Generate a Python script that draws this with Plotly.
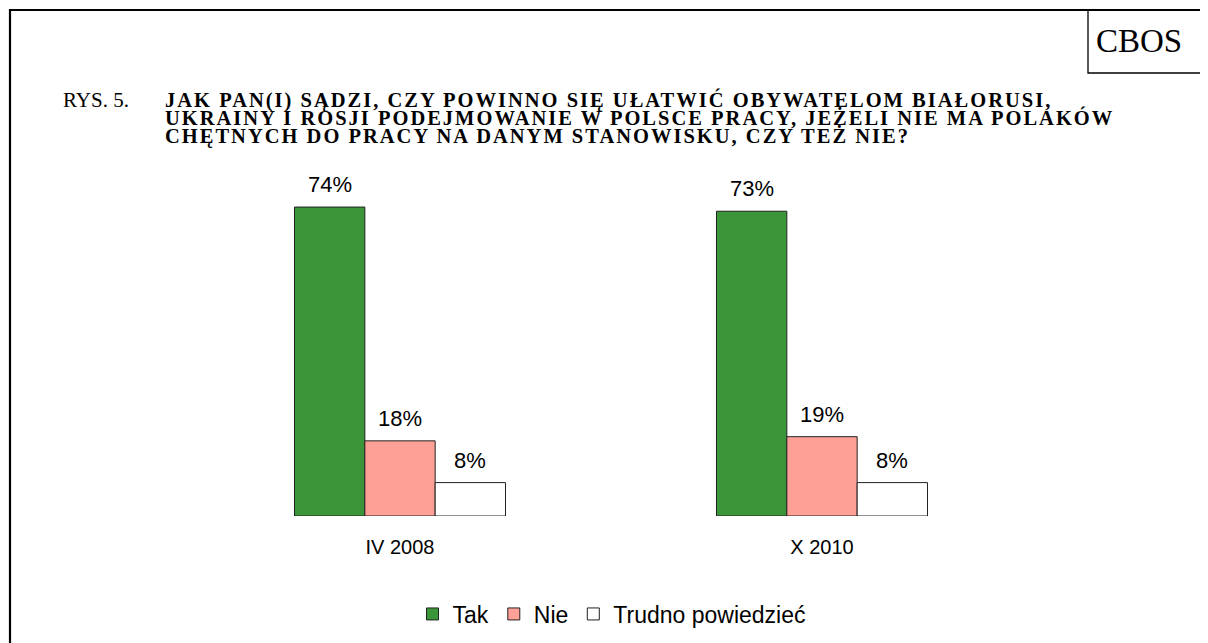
import plotly.graph_objects as go

# ---- data ----
categories = ["IV 2008", "X 2010"]
series_names = ["Tak", "Nie", "Trudno powiedzieć"]
tak = [74, 73]
nie = [18, 19]
trudno = [8, 8]
series_values = [tak, nie, trudno]
series_colors = ["#3A9638", "#FFA096", "#FFFFFF"]

title_prefix = "RYS. 5."
title_lines = [
    "JAK PAN(I) SĄDZI, CZY POWINNO SIĘ UŁATWIĆ OBYWATELOM BIAŁORUSI,",
    "UKRAINY I ROSJI PODEJMOWANIE W POLSCE PRACY, JEŻELI NIE MA POLAKÓW",
    "CHĘTNYCH DO PRACY NA DANYM STANOWISKU, CZY TEŻ NIE?",
]

# ---- layout geometry (screen pixels; page has an 8px body margin) ----
W, H = 1208, 643
OFF = 8
PL, PR, PT, PB = 189, 1033, 182, 516   # plot area on screen
L, R, T, B = PL - OFF, W - (PR - OFF), PT - OFF, H - (PB - OFF)


def px(x):
    return (x - PL) / (PR - PL)


def py(y):
    return (PB - y) / (PB - PT)


SANS = "Liberation Sans, Arial, sans-serif"
SERIF = "Liberation Serif, Times New Roman, serif"

fig = go.Figure()
for name, vals, col in zip(series_names, series_values, series_colors):
    fig.add_trace(go.Bar(
        name=name, x=categories, y=vals,
        marker=dict(color=col, line=dict(color="#222222", width=1)),
    ))

# value labels above bars
bar_px = 70
offsets = [-bar_px, 0, bar_px]
annotations = []
for vals, off in zip(series_values, offsets):
    for c, v in zip(categories, vals):
        annotations.append(dict(
            x=c, y=v, xref="x", yref="y", text=f"{v}%", showarrow=False,
            xshift=off, yshift=8, yanchor="bottom",
            font=dict(family=SANS, size=22, color="#000000"),
        ))

# title
annotations.append(dict(
    x=px(61), y=py(100), xref="paper", yref="paper", text=title_prefix,
    showarrow=False, xanchor="left", yanchor="middle",
    font=dict(family=SERIF, size=21, color="#000000"),
))
for i, line in enumerate(title_lines):
    annotations.append(dict(
        x=px(163), y=py(100 + 17.8 * i), xref="paper", yref="paper",
        text=f'<span style="letter-spacing:2px"><b>{line}</b></span>',
        showarrow=False, xanchor="left", yanchor="middle",
        font=dict(family=SERIF, size=20.5, color="#000000"),
    ))
# CBOS label
annotations.append(dict(
    x=px(1139), y=py(41), xref="paper", yref="paper", text="CBOS",
    showarrow=False, xanchor="center", yanchor="middle",
    font=dict(family=SERIF, size=33, color="#000000"),
))

shapes = [
    # outer frame (left and top edges)
    dict(type="path", xref="paper", yref="paper",
         path=f"M {px(10)},{py(700)} L {px(10)},{py(10)} L {px(1260)},{py(10)}",
         line=dict(color="#000000", width=2.2)),
    # CBOS box
    dict(type="path", xref="paper", yref="paper",
         path=f"M {px(1088)},{py(10)} L {px(1088)},{py(73)} L {px(1260)},{py(73)}",
         line=dict(color="#000000", width=1.3)),
]

fig.update_layout(
    width=W, height=H,
    margin=dict(l=L, r=R, t=T, b=B, autoexpand=False),
    paper_bgcolor="#FFFFFF", plot_bgcolor="#FFFFFF",
    barmode="group", bargap=0.5, bargroupgap=0,
    showlegend=True,
    legend=dict(
        orientation="h", x=px(612), xanchor="center",
        y=py(614), yanchor="middle",
        font=dict(family=SANS, size=23, color="#000000"),
        itemwidth=30, traceorder="normal",
    ),
    xaxis=dict(
        showline=False, showgrid=False, zeroline=False, ticks="",
        tickfont=dict(family=SANS, size=20, color="#000000"),
        ticklabelstandoff=17,
    ),
    yaxis=dict(
        range=[0, 80], visible=False, showgrid=False, zeroline=False,
    ),
    annotations=annotations,
    shapes=shapes,
)

fig.write_html("out.html", config={"responsive": False})
